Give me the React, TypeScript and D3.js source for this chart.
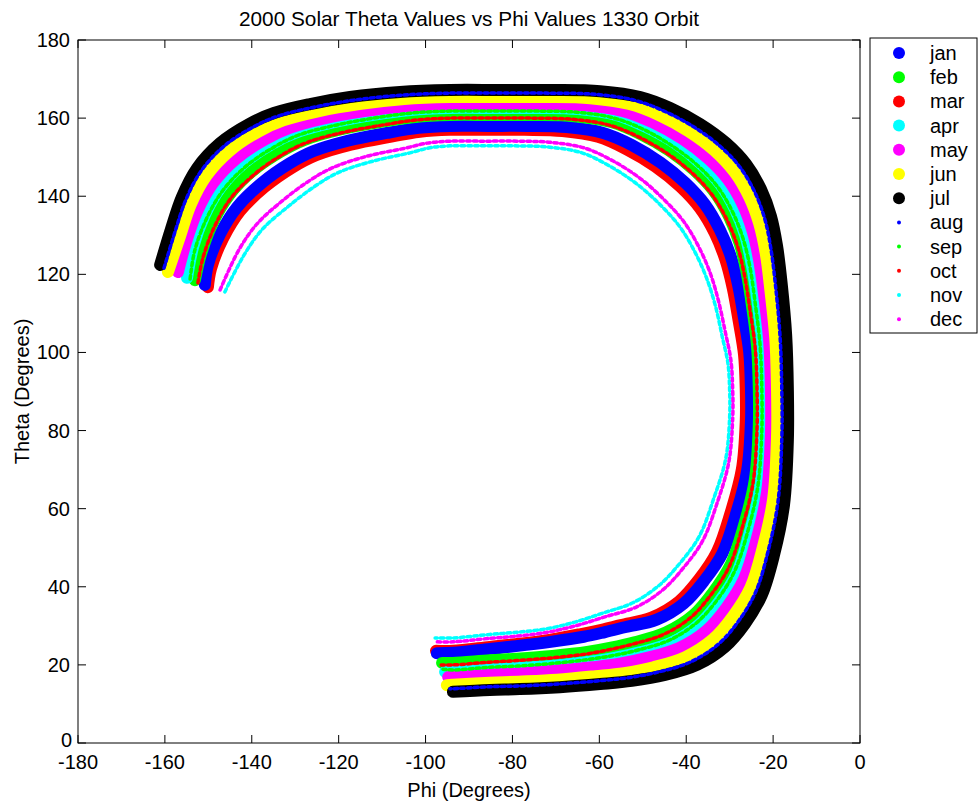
import React from "react";
import * as d3 from "d3";

const months = ["jan", "feb", "mar", "apr", "may", "jun", "jul", "aug", "sep", "oct", "nov", "dec"];
const monthColors = ["#0000ff", "#00ff00", "#ff0000", "#00ffff", "#ff00ff", "#ffff00", "#000000", "#0000ff", "#00ff00", "#ff0000", "#00ffff", "#ff00ff"];
const bigMarker = [true, true, true, true, true, true, true, false, false, false, false, false];
const drawOrder = ["mar", "jan", "feb", "apr", "may", "jun", "jul", "aug", "sep", "oct", "nov", "dec"];

const xTicks = [-180, -160, -140, -120, -100, -80, -60, -40, -20, 0];
const yTicks = [0, 20, 40, 60, 80, 100, 120, 140, 160, 180];

const julPhi = [-161.1, -158.6, -156.1, -152.6, -147.3, -140.6, -134.9, -126.6, -117.4, -105.9, -94.4, -82.9, -71.4, -59.8, -50.6, -43.7, -36.8, -30.8, -26.2, -22.8, -20.5, -19.1, -18.0, -17.0, -16.6, -16.6, -17.5, -19.8, -22.6, -26.5, -31.1, -37.5, -44.9, -52.5, -59.8, -69.1, -78.3, -85.2, -93.7];
const julTheta = [122.4, 131.6, 139.8, 147.2, 153.6, 158.5, 161.3, 163.6, 165.4, 166.7, 167.2, 167.2, 167.2, 166.9, 165.4, 162.6, 158.5, 153.6, 148.2, 141.8, 134.9, 127.3, 117.3, 104.5, 90.4, 77.6, 60.9, 48.1, 37.9, 30.5, 24.6, 20.0, 17.4, 15.9, 15.1, 14.3, 13.8, 13.6, 13.1];

const augPhi = [-160.2, -157.7, -155.2, -151.7, -146.4, -139.7, -134.0, -125.7, -116.5, -105.4, -94.4, -83.3, -72.2, -61.0, -52.0, -45.1, -38.2, -32.2, -27.6, -24.2, -21.9, -20.5, -19.4, -18.4, -18.0, -18.0, -18.9, -21.2, -24.0, -27.9, -32.5, -38.9, -46.3, -53.5, -60.4, -69.5, -78.4, -85.2, -93.7, -94.4];
const augTheta = [121.6, 130.8, 139.0, 146.4, 152.8, 157.7, 160.5, 162.8, 164.6, 165.9, 166.4, 166.4, 166.4, 166.1, 164.6, 161.8, 157.7, 152.8, 147.4, 141.0, 134.1, 126.5, 116.6, 104.1, 90.4, 77.9, 61.6, 48.9, 38.7, 31.3, 25.4, 20.8, 18.2, 16.7, 15.9, 15.1, 14.6, 14.4, 13.9, 13.9];

const junPhi = [-159.3, -156.5, -154.0, -150.4, -145.1, -138.4, -132.8, -124.5, -115.3, -104.9, -94.4, -83.7, -72.9, -62.1, -53.1, -46.3, -39.4, -33.5, -28.9, -25.5, -23.2, -21.7, -20.6, -19.5, -19.1, -19.1, -20.0, -22.4, -25.2, -29.2, -33.8, -40.2, -47.5, -54.3, -60.9, -69.7, -78.6, -85.2, -93.7, -95.1];
const junTheta = [120.6, 129.8, 138.0, 145.3, 151.6, 156.6, 159.4, 161.8, 163.6, 164.9, 165.4, 165.4, 165.4, 165.1, 163.6, 160.8, 156.6, 151.7, 146.2, 139.8, 133.0, 125.4, 115.7, 103.6, 90.4, 78.4, 62.4, 49.9, 39.8, 32.5, 26.6, 22.0, 19.4, 17.9, 17.1, 16.2, 15.7, 15.4, 14.9, 14.8];

const mayPhi = [-157.0, -155.2, -152.6, -148.9, -143.5, -136.9, -131.3, -123.1, -114.0, -104.2, -94.4, -84.1, -73.8, -63.3, -54.5, -47.7, -40.9, -35.0, -30.4, -27.0, -24.7, -23.2, -22.0, -20.9, -20.5, -20.5, -21.4, -23.8, -26.7, -30.7, -35.3, -41.7, -49.0, -55.3, -61.6, -70.1, -78.7, -85.2, -93.7, -94.8];
const mayTheta = [120.6, 128.0, 136.1, 143.4, 149.7, 154.6, 157.5, 160.0, 161.8, 163.1, 163.6, 163.6, 163.6, 163.3, 161.8, 158.9, 154.7, 149.7, 144.3, 137.9, 131.0, 123.5, 114.0, 102.8, 90.5, 79.4, 64.2, 52.1, 42.0, 34.7, 28.8, 24.3, 21.8, 20.3, 19.4, 18.5, 17.8, 17.5, 16.9, 16.9];

const aprPhi = [-154.9, -153.5, -150.9, -147.2, -141.8, -135.2, -129.6, -121.4, -112.3, -103.4, -94.4, -84.6, -74.7, -64.8, -56.1, -49.4, -42.6, -36.8, -32.2, -28.8, -26.4, -24.9, -23.6, -22.5, -22.1, -22.1, -23.0, -25.5, -28.4, -32.5, -37.1, -43.4, -50.7, -56.5, -62.3, -70.5, -78.9, -85.2, -93.7, -95.5];
const aprTheta = [119.1, 127.0, 135.0, 142.2, 148.5, 153.5, 156.4, 158.9, 160.8, 162.1, 162.6, 162.6, 162.6, 162.3, 160.8, 157.8, 153.6, 148.5, 143.1, 136.7, 129.9, 122.4, 113.1, 102.3, 90.7, 80.0, 65.3, 53.4, 43.3, 36.1, 30.3, 25.7, 23.2, 21.8, 20.8, 19.8, 19.2, 18.8, 18.2, 18.2];

const sepPhi = [-154.2, -153.1, -150.4, -146.7, -141.3, -134.7, -129.1, -121.0, -111.9, -103.1, -94.4, -84.7, -75.0, -65.2, -56.6, -49.8, -43.1, -37.2, -32.7, -29.3, -26.9, -25.3, -24.1, -23.0, -22.6, -22.6, -23.5, -25.9, -28.9, -32.9, -37.6, -43.9, -51.1, -56.8, -62.5, -70.6, -78.9, -85.2, -93.7, -96.0];
const sepTheta = [118.8, 126.2, 134.3, 141.4, 147.7, 152.7, 155.7, 158.1, 160.0, 161.3, 161.8, 161.8, 161.8, 161.5, 160.0, 157.1, 152.8, 147.7, 142.3, 135.9, 129.1, 121.7, 112.4, 101.9, 90.5, 80.2, 65.8, 53.9, 43.9, 36.6, 30.8, 26.3, 23.8, 22.4, 21.4, 20.4, 19.7, 19.4, 18.7, 18.9];

const febPhi = [-153.1, -151.7, -149.0, -145.2, -139.8, -133.2, -127.7, -119.6, -110.5, -102.4, -94.4, -84.9, -75.4, -65.8, -57.3, -50.6, -43.9, -38.1, -33.5, -30.1, -27.7, -26.1, -24.8, -23.7, -23.3, -23.3, -24.2, -26.7, -29.7, -33.8, -38.4, -44.7, -51.9, -57.3, -62.8, -70.8, -79.0, -85.2, -93.7, -96.2];
const febTheta = [118.5, 125.2, 133.2, 140.3, 146.5, 151.5, 154.5, 157.1, 159.0, 160.3, 160.8, 160.8, 160.8, 160.5, 159.0, 156.0, 151.7, 146.6, 141.1, 134.7, 127.9, 120.5, 111.5, 101.6, 90.9, 81.2, 67.4, 55.7, 45.8, 38.6, 32.7, 28.3, 25.8, 24.4, 23.3, 22.3, 21.6, 21.2, 20.5, 20.5];

const octPhi = [-152.4, -151.2, -148.5, -144.8, -139.3, -132.7, -127.2, -119.1, -110.0, -102.2, -94.4, -85.0, -75.7, -66.2, -57.7, -51.0, -44.3, -38.5, -34.0, -30.6, -28.2, -26.6, -25.3, -24.1, -23.7, -23.7, -24.6, -27.1, -30.1, -34.2, -38.9, -45.2, -52.4, -57.7, -63.0, -70.9, -79.0, -85.2, -93.7, -96.4];
const octTheta = [117.8, 124.4, 132.4, 139.5, 145.7, 150.8, 153.8, 156.3, 158.2, 159.5, 160.0, 160.0, 160.0, 159.7, 158.2, 155.2, 150.9, 145.8, 140.3, 133.9, 127.2, 119.8, 110.7, 100.9, 90.3, 80.6, 66.8, 55.2, 45.2, 38.1, 32.2, 27.8, 25.3, 23.9, 22.8, 21.8, 21.1, 20.7, 20.0, 20.0];

const janPhi = [-150.8, -150.1, -147.3, -143.4, -137.8, -131.3, -125.9, -117.9, -108.9, -101.6, -94.4, -85.5, -76.5, -67.5, -59.1, -52.5, -45.9, -40.2, -35.7, -32.3, -29.8, -28.1, -26.7, -25.5, -25.1, -25.1, -26.0, -28.6, -31.7, -35.9, -40.6, -46.8, -53.9, -58.7, -63.6, -71.2, -79.2, -85.2, -93.7, -97.4];
const janTheta = [117.3, 122.4, 130.3, 137.2, 143.3, 148.4, 151.5, 154.2, 156.2, 157.5, 158.0, 158.0, 158.0, 157.7, 156.2, 153.1, 148.6, 143.4, 137.9, 131.5, 124.8, 117.5, 108.8, 100.1, 90.8, 82.2, 69.6, 58.4, 48.5, 41.5, 35.7, 31.6, 29.7, 28.4, 27.2, 25.9, 24.8, 24.1, 23.1, 23.0];

const marPhi = [-150.1, -149.4, -146.6, -142.7, -137.1, -130.6, -125.2, -117.2, -108.2, -101.3, -94.4, -85.8, -77.2, -68.5, -60.3, -53.7, -47.1, -41.3, -36.8, -33.4, -31.0, -29.3, -27.9, -26.7, -26.3, -26.3, -27.2, -29.8, -32.9, -37.0, -41.7, -48.0, -55.1, -59.5, -64.2, -71.5, -79.3, -85.2, -93.7, -97.6];
const marTheta = [116.7, 121.4, 129.2, 136.2, 142.3, 147.4, 150.5, 153.2, 155.2, 156.5, 157.0, 157.0, 157.0, 156.7, 155.2, 152.0, 147.6, 142.4, 136.9, 130.5, 123.8, 116.5, 107.9, 99.5, 90.5, 82.3, 70.0, 58.9, 49.0, 42.0, 36.2, 32.1, 30.2, 29.0, 27.9, 26.4, 25.3, 24.6, 23.6, 23.6];

const decPhi = [-147.3, -143.0, -138.8, -133.0, -126.7, -121.4, -113.6, -104.7, -99.6, -94.4, -86.7, -79.0, -71.2, -63.3, -56.8, -50.4, -44.9, -40.5, -37.1, -34.5, -32.6, -31.0, -29.7, -29.3, -29.3, -30.2, -32.9, -36.2, -40.6, -45.4, -51.5, -58.4, -65.5, -72.3, -79.6, -85.2, -93.7, -97.4];
const decTheta = [116.0, 126.2, 132.9, 138.8, 144.0, 147.3, 150.2, 152.3, 153.6, 154.1, 154.1, 154.1, 153.8, 152.3, 149.0, 144.4, 138.9, 133.4, 127.0, 120.4, 113.3, 105.2, 97.9, 90.3, 83.2, 71.9, 61.4, 51.8, 44.9, 39.2, 34.8, 32.4, 30.0, 28.3, 27.3, 26.8, 25.9, 25.9];

const novPhi = [-146.2, -141.8, -137.6, -131.7, -125.4, -120.2, -112.4, -103.6, -99.0, -94.4, -86.9, -79.4, -71.8, -64.0, -57.6, -51.2, -45.7, -41.3, -37.9, -35.3, -33.3, -31.7, -30.4, -30.0, -30.0, -30.9, -33.7, -37.0, -41.4, -46.2, -52.3, -59.1, -65.8, -72.4, -79.6, -85.2, -93.7, -97.8];
const novTheta = [115.5, 124.9, 131.5, 137.3, 142.6, 146.0, 148.9, 151.1, 152.4, 152.9, 152.9, 152.9, 152.6, 151.1, 147.7, 143.0, 137.5, 131.9, 125.5, 119.0, 112.0, 104.0, 97.2, 90.2, 83.5, 72.8, 62.5, 52.9, 46.1, 40.4, 35.9, 33.3, 30.9, 29.2, 28.3, 27.8, 26.9, 26.9];

const seriesPhi: Record<string, number[]> = { jan: janPhi, feb: febPhi, mar: marPhi, apr: aprPhi, may: mayPhi, jun: junPhi, jul: julPhi, aug: augPhi, sep: sepPhi, oct: octPhi, nov: novPhi, dec: decPhi };
const seriesTheta: Record<string, number[]> = { jan: janTheta, feb: febTheta, mar: marTheta, apr: aprTheta, may: mayTheta, jun: junTheta, jul: julTheta, aug: augTheta, sep: sepTheta, oct: octTheta, nov: novTheta, dec: decTheta };

const W = 979;
const H = 805;
const plotL = 78, plotR = 860, plotT = 40, plotB = 743;
const FONT = "'Liberation Sans', Arial, Helvetica, sans-serif";

export default function App() {
  const x = d3.scaleLinear().domain([-180, 0]).range([plotL, plotR]);
  const y = d3.scaleLinear().domain([0, 180]).range([plotB, plotT]);
  const line = d3
    .line<[number, number]>()
    .x((d) => x(d[0]))
    .y((d) => y(d[1]))
    .curve(d3.curveCatmullRom.alpha(0.5));

  const pts = (m: string): [number, number][] => seriesPhi[m].map((p, i) => [p, seriesTheta[m][i]]);

  return (
    <svg width={W} height={H} style={{ position: "absolute", left: 0, top: 0, background: "#fff" }} fontFamily={FONT}>
      <rect x={0} y={0} width={W} height={H} fill="#fff" />
      <defs>
        <clipPath id="plotclip">
          <rect x={plotL} y={plotT} width={plotR - plotL} height={plotB - plotT} />
        </clipPath>
      </defs>
      <g clipPath="url(#plotclip)">
        {drawOrder.map((m) => {
          const i = months.indexOf(m);
          const big = bigMarker[i];
          return (
            <path
              key={m}
              d={line(pts(m)) || ""}
              fill="none"
              stroke={monthColors[i]}
              strokeWidth={big ? 12 : 3.5}
              strokeLinecap="round"
              strokeLinejoin="round"
              strokeDasharray={big ? undefined : "3.5 3.2"}
            />
          );
        })}
      </g>
      <rect x={plotL} y={plotT} width={plotR - plotL} height={plotB - plotT} fill="none" stroke="#000" strokeWidth={1} />
      {xTicks.map((t) => (
        <g key={"x" + t}>
          <line x1={x(t)} x2={x(t)} y1={plotB} y2={plotB - 8} stroke="#000" />
          <line x1={x(t)} x2={x(t)} y1={plotT} y2={plotT + 8} stroke="#000" />
          <text x={x(t)} y={769} fontSize={20} textAnchor="middle" fill="#000">
            {t}
          </text>
        </g>
      ))}
      {yTicks.map((t) => (
        <g key={"y" + t}>
          <line x1={plotL} x2={plotL + 8} y1={y(t)} y2={y(t)} stroke="#000" />
          <line x1={plotR} x2={plotR - 8} y1={y(t)} y2={y(t)} stroke="#000" />
          <text x={t === 0 ? 72 : 70} y={y(t) + (t === 0 ? 4 : 7)} fontSize={20} textAnchor="end" fill="#000">
            {t}
          </text>
        </g>
      ))}
      <text x={(plotL + plotR) / 2} y={797} fontSize={20} textAnchor="middle" fill="#000">
        Phi (Degrees)
      </text>
      <text transform={`translate(29,${(plotT + plotB) / 2}) rotate(-90)`} fontSize={20} textAnchor="middle" fill="#000">
        Theta (Degrees)
      </text>
      <text x={(plotL + plotR) / 2} y={26} fontSize={20.8} textAnchor="middle" fill="#000">
        2000 Solar Theta Values vs Phi Values 1330 Orbit
      </text>
      <rect x={870} y={38} width={107} height={295} fill="#fff" stroke="#000" strokeWidth={1} />
      {months.map((m, i) => {
        const ly = 53 + i * 24.2;
        return (
          <g key={"l" + m}>
            <circle cx={899} cy={ly} r={bigMarker[i] ? 6 : 2} fill={monthColors[i]} />
            <text x={930} y={ly + 7} fontSize={20} fill="#000">
              {m}
            </text>
          </g>
        );
      })}
    </svg>
  );
}
